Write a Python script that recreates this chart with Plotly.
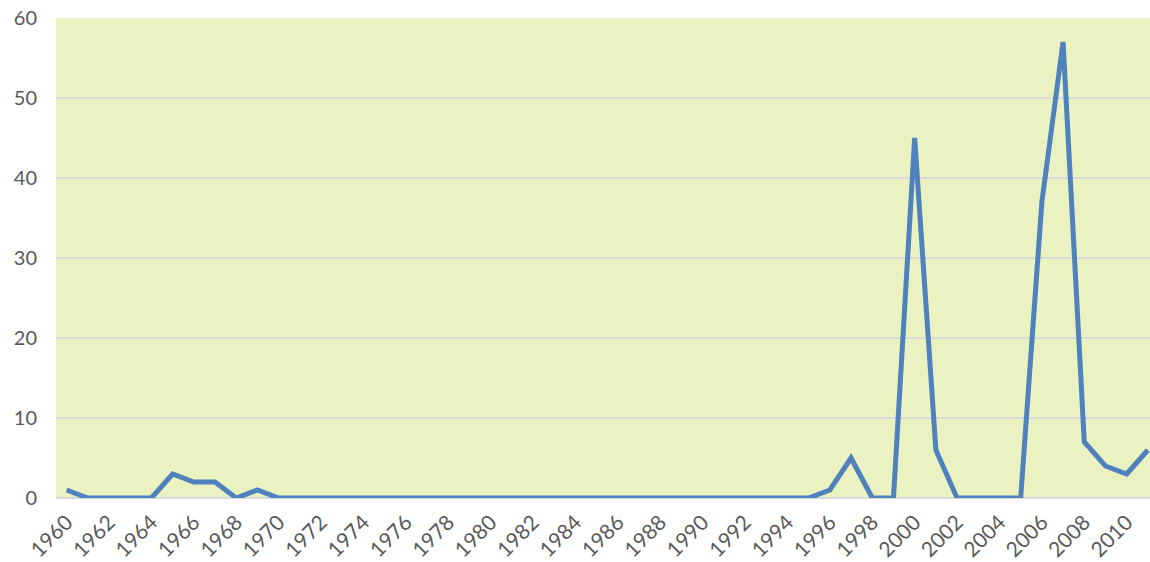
import plotly.graph_objects as go

years = list(range(1960, 2012))
values = [1, 0, 0, 0, 0, 3, 2, 2, 0, 1,
          0, 0, 0, 0, 0, 0, 0, 0, 0, 0,
          0, 0, 0, 0, 0, 0, 0, 0, 0, 0,
          0, 0, 0, 0, 0, 0, 1, 5, 0, 0,
          45, 6, 0, 0, 0, 0, 37, 57, 7, 4,
          3, 6]
tick_years = list(range(1960, 2012, 2))
tick_labels = [str(y) for y in tick_years]

fig = go.Figure(go.Scatter(x=years, y=values, mode="lines",
                           line=dict(color="#4F81BD", width=5)))
fig.update_layout(
    width=1150, height=562,
    margin=dict(l=56, r=0, t=18, b=64),
    paper_bgcolor="white", plot_bgcolor="#EBF2C1",
    showlegend=False,
    font=dict(family="Lato, Liberation Sans, sans-serif", size=20, color="#595959"),
)
fig.update_xaxes(type="linear", range=[1959.5, 2011.1], tickmode="array",
                 tickvals=tick_years, ticktext=tick_labels,
                 tickangle=-45, tickfont=dict(size=21, color="#595959"),
                 showgrid=False, zeroline=False, showline=False, ticks="",
                 ticklabelstandoff=7, automargin=False)
fig.update_yaxes(range=[0, 60], dtick=10, gridcolor="#D9D9D9", gridwidth=2,
                 tickfont=dict(size=20, color="#595959"),
                 zeroline=True, zerolinecolor="#D9D9D9", zerolinewidth=2,
                 showline=False, ticks="", ticklabelstandoff=18, automargin=False)
fig.write_html("out.html")
